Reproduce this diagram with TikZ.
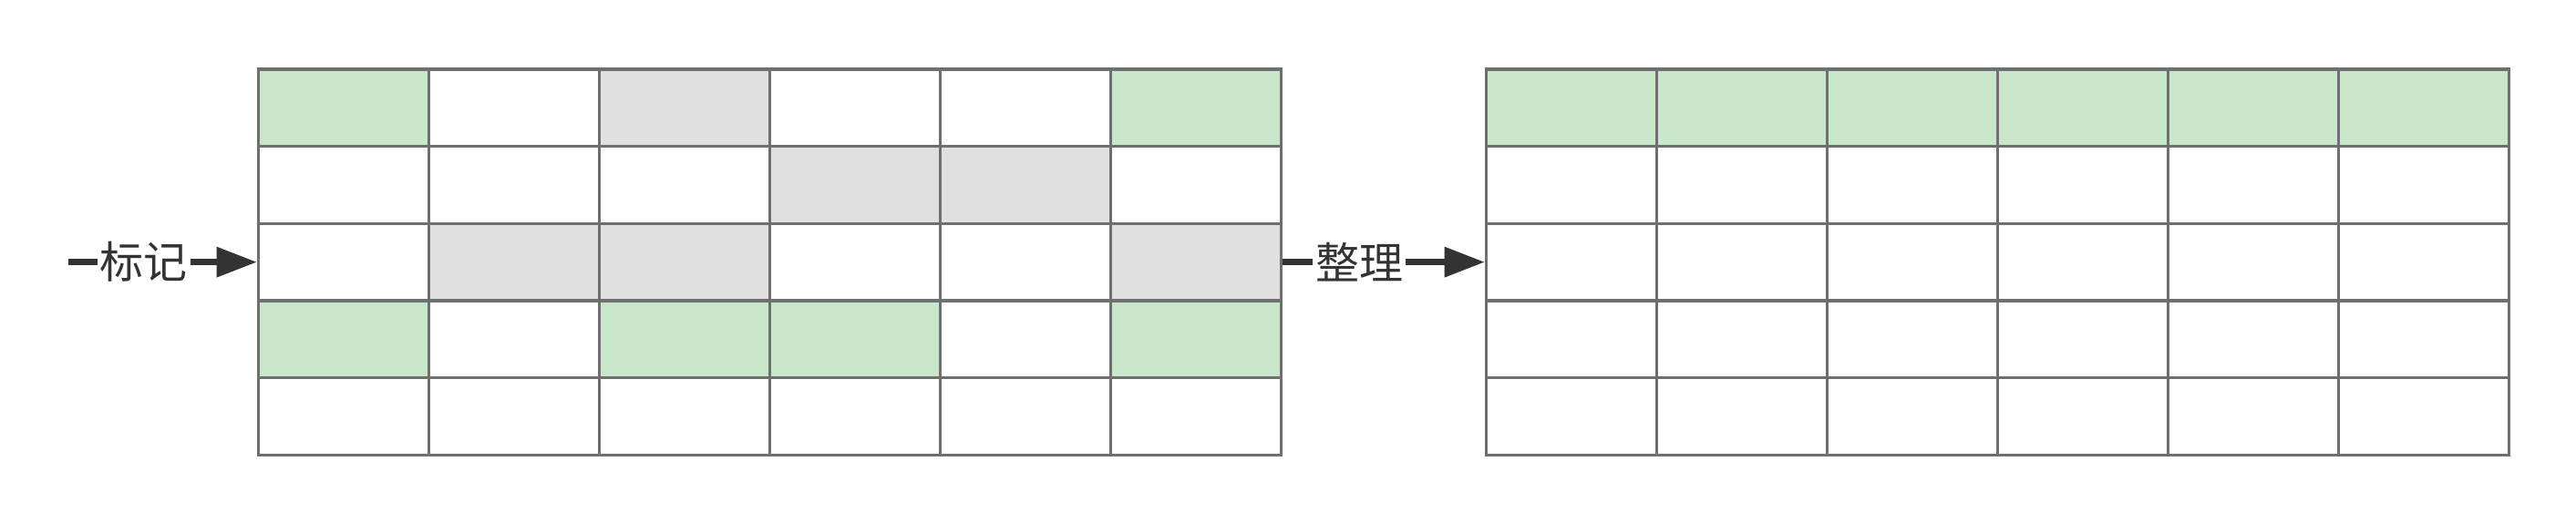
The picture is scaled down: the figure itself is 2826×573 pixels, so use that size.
\documentclass[tikz,border=0pt]{standalone}
\usepackage{fontspec}
\newfontfamily\cjk{Noto Sans CJK SC}
\usetikzlibrary{matrix,arrows.meta}
\definecolor{livegreen}{HTML}{C8E6C9}
\definecolor{deadgray}{HTML}{E0E0E0}
\definecolor{gridline}{HTML}{6F6F6F}
\definecolor{arrowink}{HTML}{333333}
\tikzset{
    live/.style={fill=livegreen},
    dead/.style={fill=deadgray},
    heap/.style={matrix of nodes,nodes in empty cells,inner sep=0pt,outer sep=0pt,
        column sep=-1.6pt,row sep=-1.6pt,anchor=north west,
        nodes={draw=gridline,line width=1.6pt,inner sep=0pt,outer sep=0pt,
            minimum width=93.5pt,minimum height=42.35pt}},
    flow/.style={draw=arrowink,line width=3.2pt,-{Triangle[length=22pt,width=16pt]}},
    tag/.style={fill=white,inner sep=1.5pt,text=arrowink,font=\cjk\fontsize{24}{28}\selectfont}
}
\begin{document}
\begin{tikzpicture}[x=0.5pt,y=-0.5pt]
        \useasboundingbox (0,0) rectangle (2826,573);
        \matrix (marked) [heap] at (281.7,74.3)
        {
            |[live]| &          & |[dead]| &          &          & |[live]| \\
                     &          &          & |[dead]| & |[dead]| &          \\
                     & |[dead]| & |[dead]| &          &          & |[dead]| \\
            |[live]| &          & |[live]| & |[live]| &          & |[live]| \\
                     &          &          &          &          &          \\
        };
        \matrix (sorted) [heap] at (1628.7,74.3)
        {
            |[live]| & |[live]| & |[live]| & |[live]| & |[live]| & |[live]| \\
                     &          &          &          &          &          \\
                     &          &          &          &          &          \\
                     &          &          &          &          &          \\
                     &          &          &          &          &          \\
        };
        \coordinate (start) at (75,0 |- marked.west);
        \draw[flow] (start) -- node[tag,pos=0.4] (mark) {标记} (marked.west);
        \draw[flow] (marked.east) -- node[tag,pos=0.38] (tidy) {整理} (sorted.west);
    \end{tikzpicture}
\end{document}
